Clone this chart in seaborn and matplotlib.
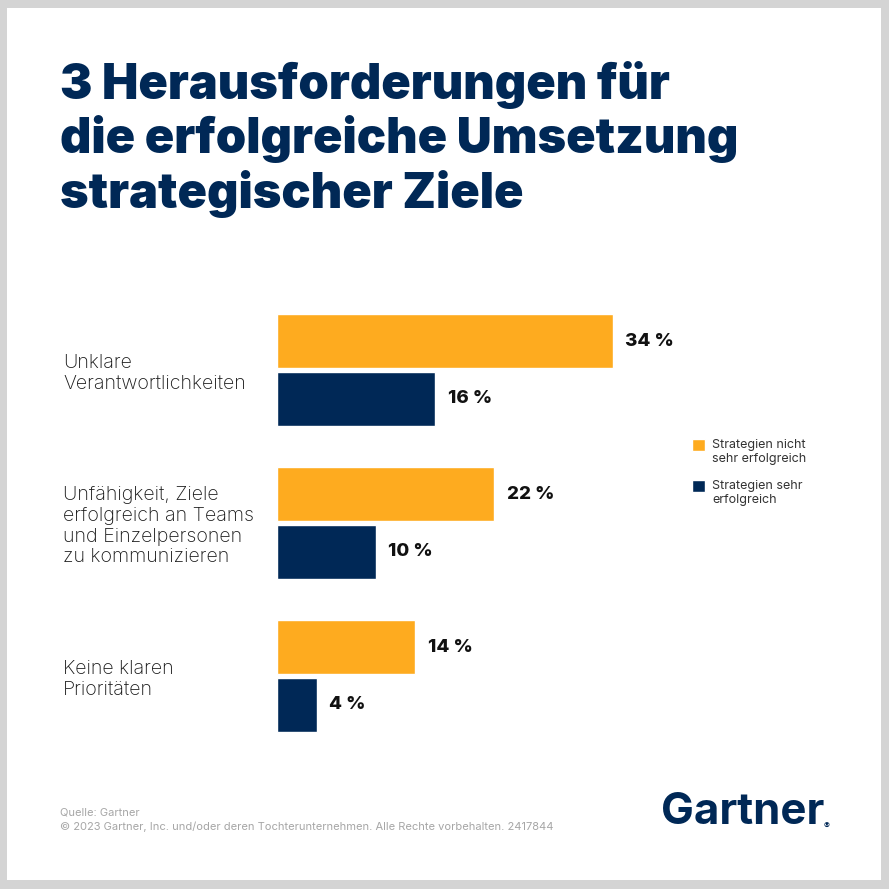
import matplotlib
matplotlib.use('Agg')
import matplotlib.pyplot as plt
from matplotlib.patches import Rectangle, Patch
from matplotlib.legend_handler import HandlerPatch
import pandas as pd
import seaborn as sns

# Chart data
categories = ['Unklare\nVerantwortlichkeiten',
              'Unfähigkeit, Ziele\nerfolgreich an Teams\nund Einzelpersonen\nzu kommunizieren',
              'Keine klaren\nPrioritäten']
series_names = ['Strategien nicht sehr erfolgreich', 'Strategien sehr erfolgreich']
legend_labels = ['Strategien nicht\nsehr erfolgreich', 'Strategien sehr\nerfolgreich']
not_successful = [34, 22, 14]
successful = [16, 10, 4]

title = '3 Herausforderungen für\ndie erfolgreiche Umsetzung\nstrategischer Ziele'
source = 'Quelle: Gartner'
copyright_line = '© 2023 Gartner, Inc. und/oder deren Tochterunternehmen. Alle Rechte vorbehalten. 2417844'

orange = '#FEAB1F'
navy = '#002856'

df = pd.DataFrame({
    'Kategorie': categories * 2,
    'Serie': [series_names[0]] * 3 + [series_names[1]] * 3,
    'Wert': not_successful + successful,
})

sns.set_style('white')
plt.rcParams['font.family'] = ['Inter', 'DejaVu Sans']

W = H = 889
fig = plt.figure(figsize=(W / 100, H / 100), dpi=100)
fig.patch.set_facecolor('#d4d4d4')
fig.patches.append(Rectangle((7 / W, 1 - 880 / H), (881 - 7) / W, (880 - 8) / H,
                             transform=fig.transFigure, facecolor='white',
                             edgecolor='none', zorder=-1))

# axes placed so that 0..40 % spans 277..672 px and categories sit at their rows
ax = fig.add_axes([277 / W, 1 - 752.5 / H, 395 / W, 459 / H])
ax.set_facecolor('none')
sns.barplot(data=df, x='Wert', y='Kategorie', hue='Serie', orient='h',
            palette=[orange, navy], width=0.758, gap=0.06, ax=ax,
            legend=False, saturation=1)

ax.set_xlim(0, 40)
ax.set_ylim(2.5, -0.5)
ax.set_xlabel('')
ax.set_ylabel('')
ax.set_xticks([])
sns.despine(ax=ax, left=True, bottom=True)

for lbl in ax.get_yticklabels():
    lbl.set_ha('left')
    lbl.set_fontsize(14.2)
    lbl.set_fontweight('light')
    lbl.set_color('#1a1a1a')
    lbl.set_linespacing(1.18)
ax.tick_params(axis='y', length=0, pad=154)

for container in ax.containers:
    ax.bar_label(container, labels=[f'{v:g} %' for v in container.datavalues],
                 padding=9, fontsize=13.5, fontweight='heavy', color='#111111')


def top_square(legend, orig_handle, xdescent, ydescent, width, height, fontsize):
    # square aligned with the first line of a two-line label
    return Rectangle((-xdescent, -ydescent + 5.2), width, height)


handles = [Patch(facecolor=orange), Patch(facecolor=navy)]
fig.legend(handles, legend_labels, loc='upper left',
           bbox_to_anchor=(681 / W, 1 - 428 / H), frameon=False,
           fontsize=9, handlelength=1.05, handleheight=1.05, handletextpad=0.55,
           labelspacing=1.2, labelcolor='#333333',
           handler_map={Patch: HandlerPatch(patch_func=top_square)})

fig.text(60 / W, 1 - 61 / H, title, ha='left', va='top', fontsize=35,
         fontweight='black', color=navy, linespacing=1.17)

fig.text(60 / W, 1 - 812 / H, source, ha='left', va='center', fontsize=8, color='#a6a6a6')
fig.text(60 / W, 1 - 827 / H, copyright_line, ha='left', va='center', fontsize=8, color='#a6a6a6')

fig.text(661 / W, 1 - 813 / H, 'Gartner', ha='left', va='center', fontsize=31.5,
         fontweight='bold', color=navy)
fig.text(824 / W, 1 - 826 / H, '®', ha='left', va='center', fontsize=6.5,
         fontweight='bold', color=navy)

fig.savefig('out.png', dpi=100)
